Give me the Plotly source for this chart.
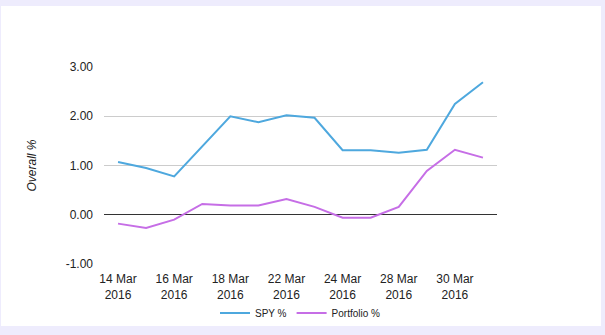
import plotly.graph_objects as go

dates = ["14 Mar 2016", "15 Mar 2016", "16 Mar 2016", "17 Mar 2016", "18 Mar 2016",
         "21 Mar 2016", "22 Mar 2016", "23 Mar 2016", "24 Mar 2016", "25 Mar 2016",
         "28 Mar 2016", "29 Mar 2016", "30 Mar 2016", "31 Mar 2016"]
spy = [1.07, 0.95, 0.78, 1.38, 2.00, 1.88, 2.02, 1.97, 1.31, 1.31, 1.26, 1.32, 2.25, 2.69]
portfolio = [-0.18, -0.27, -0.10, 0.22, 0.19, 0.19, 0.32, 0.16, -0.06, -0.06, 0.16, 0.89, 1.32, 1.16]
tick_dates = ["14 Mar 2016", "16 Mar 2016", "18 Mar 2016", "22 Mar 2016",
              "24 Mar 2016", "28 Mar 2016", "30 Mar 2016"]
tick_text = ["14 Mar<br>2016", "16 Mar<br>2016", "18 Mar<br>2016", "22 Mar<br>2016",
             "24 Mar<br>2016", "28 Mar<br>2016", "30 Mar<br>2016"]
y_ticks = [-1, 0, 1, 2, 3]
y_tick_text = ["-1.00", "0.00", "1.00", "2.00", "3.00"]

W, H = 605, 335
L, R, T, B = 104, 108, 67, 71
pw, ph = W - L - R, H - T - B

def px(x):
    return (x - L) / pw

def py(y):
    return (H - B - y) / ph

fig = go.Figure()
fig.add_trace(go.Scatter(x=dates, y=spy, mode="lines", name="SPY %",
                         line=dict(color="#4ea8de", width=2)))
fig.add_trace(go.Scatter(x=dates, y=portfolio, mode="lines", name="Portfolio %",
                         line=dict(color="#c66ee6", width=2)))

fig.add_shape(type="rect", xref="paper", yref="paper", layer="below",
              x0=px(1), x1=px(601), y0=py(326), y1=py(6),
              fillcolor="white", line=dict(width=0))

fig.update_layout(
    width=W, height=H,
    margin=dict(l=L, r=R, t=T, b=B, autoexpand=False),
    paper_bgcolor="#eeecfd",
    plot_bgcolor="rgba(0,0,0,0)",
    font=dict(family="Liberation Sans, Arial, sans-serif", size=12, color="#222"),
    showlegend=True,
    legend=dict(orientation="h", x=0.5, xanchor="center", y=py(313), yanchor="middle",
                font=dict(size=10, color="#222"), bgcolor="rgba(0,0,0,0)",
                itemwidth=30, tracegroupgap=0),
    xaxis=dict(type="category", range=[-0.5, len(dates) - 0.5],
               tickmode="array", tickvals=tick_dates, ticktext=tick_text,
               tickangle=0, automargin=False, ticklabelstandoff=6,
               showgrid=False, zeroline=False, showline=False, ticks="",
               tickfont=dict(size=12, color="#222")),
    yaxis=dict(range=[-1, 3], tickmode="array", tickvals=y_ticks, ticktext=y_tick_text,
               showgrid=True, gridcolor="#cccccc", gridwidth=1, automargin=False,
               zeroline=True, zerolinecolor="#333333", zerolinewidth=1,
               showline=False, ticks="", ticklabelstandoff=10,
               tickfont=dict(size=12, color="#222"),
               title=dict(text="<i>Overall %</i>", font=dict(size=12, color="#222"), standoff=26)),
)

fig.write_html("out.html")
